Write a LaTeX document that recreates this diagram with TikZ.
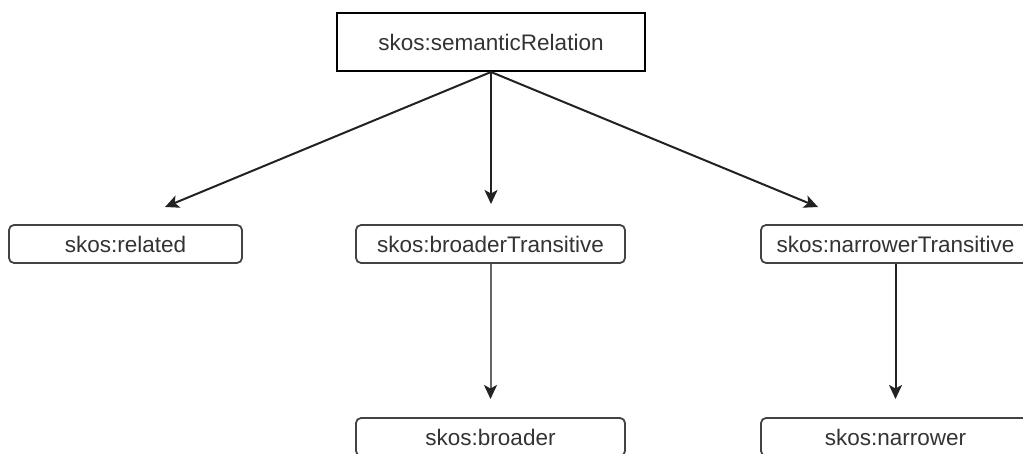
\documentclass[tikz,border=0pt]{standalone}
\usepackage{fontspec}
\setmainfont{Liberation Sans}
\usetikzlibrary{arrows.meta}
\definecolor{txt}{HTML}{333333}
\definecolor{edge}{HTML}{222222}
\begin{document}
\begin{tikzpicture}[x=1pt,y=-1pt,
  topbox/.style={draw=black,line width=2pt,minimum width=308pt,minimum height=58pt,inner sep=0pt,text=txt,font=\fontsize{22.5}{26}\selectfont},
  subbox/.style={draw=edge!85,line width=1.8pt,rounded corners=5pt,minimum height=38pt,inner sep=0pt,text=txt,font=\fontsize{22.5}{26}\selectfont},
  arr/.style={draw=edge,line width=2pt,-{Stealth[length=14pt,width=13pt,inset=3.5pt]}},
  arrg/.style={draw=black!60,line width=2pt,-{Stealth[length=14pt,width=13pt,inset=3.5pt,color=edge]}}
]
\useasboundingbox (0,0) rectangle (1023,454);
\node[topbox] (sr) at (491,42) {skos:semanticRelation};
\node[subbox,minimum width=233pt] (rel) at (125.5,244) {skos:related};
\node[subbox,minimum width=269pt] (bt) at (490.5,244) {skos:broaderTransitive};
\node[subbox,minimum width=269pt] (nt) at (895.5,244) {skos:narrowerTransitive};
\node[subbox,minimum width=269pt] (br) at (490.5,437) {skos:broader};
\node[subbox,minimum width=269pt] (nr) at (895.5,437) {skos:narrower};
\coordinate (t1) at (165,207);
\coordinate (t2) at (491,204);
\coordinate (t3) at (818,207);
\coordinate (t4) at (490.5,399);
\coordinate (t5) at (895.5,399);
\draw[arr] (sr.south) -- (t1);
\draw[arr] (sr.south) -- (t2);
\draw[arr] (sr.south) -- (t3);
\draw[arrg] (bt.south) -- (t4);
\draw[arr] (nt.south) -- (t5);
\end{tikzpicture}
\end{document}
